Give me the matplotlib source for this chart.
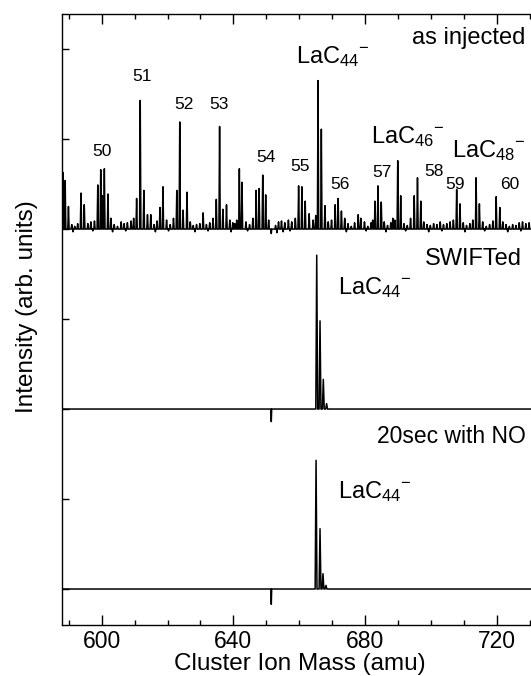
import matplotlib

matplotlib.use("Agg")
import matplotlib.pyplot as plt
from matplotlib.ticker import MultipleLocator

plt.rcParams["font.family"] = ["Liberation Sans", "DejaVu Sans"]
plt.rcParams["mathtext.fontset"] = "custom"
plt.rcParams["mathtext.rm"] = "Liberation Sans"
plt.rcParams["mathtext.it"] = "Liberation Sans"
plt.rcParams["mathtext.default"] = "regular"

# --- data (mass in amu, intensity in arb. units) ---
# "as injected" spectrum: main peaks
injected_mass = [
    588.2, 588.9, 589.9, 593.7, 594.7, 598.8, 599.7, 600.2, 600.8, 601.9,
    605.9, 610.6, 611.7, 612.8, 613.9, 614.9, 617.7, 618.6, 622.8, 623.7,
    624.7, 625.9, 630.8, 634.8, 635.8, 636.8, 637.9, 641.0, 641.8, 642.6,
    646.9, 647.8, 648.9, 649.8, 659.8, 660.8, 661.8, 663.0, 665.0, 665.7,
    666.7, 667.8, 670.9, 671.8, 672.8, 677.9, 678.7, 683.0, 683.9, 684.9,
    689.0, 689.9, 690.8, 694.9, 695.9, 696.9, 706.8, 707.8, 708.8, 712.7,
    713.7, 714.7, 719.8, 720.9,
]
injected_int = [
    0.63, 0.54, 0.25, 0.40, 0.27, 0.49, 0.66, 0.37, 0.67, 0.39,
    0.08, 0.34, 1.43, 0.43, 0.16, 0.16, 0.24, 0.47, 0.43, 1.19,
    0.21, 0.41, 0.18, 0.33, 1.14, 0.22, 0.27, 0.10, 0.67, 0.52,
    0.43, 0.45, 0.60, 0.38, 0.48, 0.47, 0.31, 0.17, 0.15, 1.65,
    1.11, 0.26, 0.27, 0.34, 0.20, 0.16, 0.12, 0.31, 0.48, 0.30,
    0.10, 0.76, 0.37, 0.37, 0.57, 0.31, 0.10, 0.44, 0.28, 0.10,
    0.57, 0.28, 0.36, 0.24,
]
# small baseline wiggles of the "as injected" trace
noise_mass = [
    590.9, 591.8, 592.7, 595.8, 596.7, 597.8, 602.8, 603.8, 604.8, 606.8,
    607.8, 608.9, 609.7, 615.9, 616.8, 619.7, 620.8, 621.8, 626.9, 627.8,
    628.8, 629.8, 631.8, 632.8, 633.8, 638.9, 639.8, 640.4, 643.8, 644.9,
    645.9, 650.7, 651.5, 652.8, 653.7, 654.6, 655.6, 656.7, 657.7, 658.8,
    664.2, 668.8, 669.8, 673.8, 674.8, 675.8, 676.8, 679.8, 680.8, 681.8,
    682.3, 685.8, 686.8, 687.8, 688.4, 691.8, 692.8, 693.8, 697.8, 698.8,
    699.8, 700.8, 701.8, 702.8, 703.8, 704.8, 705.8, 709.8, 710.8, 711.8,
    715.7, 716.8, 717.8, 718.8, 721.8, 722.8, 723.8, 724.8, 725.8, 726.8,
    727.8, 728.8, 729.8,
    591.3, 597.3, 603.3, 607.3, 616.3, 620.3, 628.3, 632.3, 639.3, 644.3,
    653.2, 655.1, 657.2, 674.3, 680.3, 686.3, 692.3, 699.3, 703.3, 710.3,
    716.3, 723.3, 727.3,
]
noise_int = [
    0.05, 0.03, 0.06, 0.06, 0.08, 0.09, 0.12, 0.05, 0.03, 0.06,
    0.07, 0.09, 0.12, 0.05, 0.09, 0.10, 0.05, 0.12, 0.08, 0.04,
    0.05, 0.06, 0.05, 0.07, 0.12, 0.10, 0.07, 0.06, 0.08, 0.05,
    0.12, 0.10, -0.05, 0.04, 0.08, 0.09, 0.07, 0.10, 0.08, 0.12,
    0.10, 0.08, 0.10, 0.12, 0.06, 0.03, 0.07, 0.08, 0.03, 0.07,
    0.10, 0.08, 0.04, 0.07, 0.12, 0.06, 0.04, 0.12, 0.08, 0.05,
    0.04, 0.06, 0.05, 0.08, 0.05, 0.06, 0.08, 0.07, 0.04, 0.06,
    0.08, 0.03, 0.05, 0.09, 0.08, 0.05, 0.03, 0.05, 0.04, 0.07,
    0.08, 0.06, 0.07,
    -0.03, -0.02, -0.03, -0.02, -0.03, -0.02, -0.03, -0.02, -0.03, -0.02,
    -0.04, -0.03, -0.02, -0.03, -0.02, -0.03, -0.02, -0.03, -0.02, -0.03,
    -0.02, -0.03, -0.02,
]
# SWIFTed spectrum
swift_mass = [651.5, 665.3, 666.3, 667.3, 668.3]
swift_int = [-0.14, 1.71, 0.98, 0.33, 0.06]
# 20 s with NO
no_mass = [651.5, 665.1, 666.3, 667.2, 668.1]
no_int = [-0.17, 1.43, 0.67, 0.17, 0.04]

# C_n cluster labels and where they sit
cn_labels = ["50", "51", "52", "53", "54", "55", "56", "57", "58", "59", "60"]
cn_mass = [600.2, 612.3, 625.0, 635.5, 649.8, 660.1, 672.5, 685.1, 701.0, 707.3, 723.8]
cn_y = [4.86, 5.69, 5.38, 5.38, 4.79, 4.70, 4.49, 4.63, 4.64, 4.49, 4.49]

XMIN, XMAX = 587.94, 732.5
OFFSETS = [4.0, 2.0, 0.0]


def stick_trace(masses, heights, base, half_width):
    """Polyline of narrow triangular peaks on a flat baseline."""
    pairs = sorted(zip(masses, heights))
    xs, ys = [XMIN], [base]
    for m, h in pairs:
        w = half_width if h > 0 else 0.12
        xs += [m - w, m, m + w]
        ys += [base, base + h, base]
    xs.append(XMAX)
    ys.append(base)
    return xs, ys


fig = plt.figure(figsize=(5.31, 6.76), dpi=100)
ax = fig.add_axes([62 / 531, 51 / 676, 476 / 531, 611 / 676])

x, y = stick_trace(injected_mass + noise_mass, injected_int + noise_int, OFFSETS[0], 0.2)
ax.plot(x, y, color="black", lw=1.1)
x, y = stick_trace(swift_mass, swift_int, OFFSETS[1], 0.28)
ax.plot(x, y, color="black", lw=1.1)
x, y = stick_trace(no_mass, no_int, OFFSETS[2], 0.28)
ax.plot(x, y, color="black", lw=1.1)

for lab, m, yy in zip(cn_labels, cn_mass, cn_y):
    ax.text(m, yy, lab, ha="center", va="center", fontsize=12.5)

lac = r"LaC$_{44}{}^{-}$"
ax.text(659.0, 5.84, lac, fontsize=17, ha="left", va="baseline")
ax.text(681.7, 4.95, r"LaC$_{46}{}^{-}$", fontsize=17, ha="left", va="baseline")
ax.text(706.5, 4.80, r"LaC$_{48}{}^{-}$", fontsize=17, ha="left", va="baseline")
ax.text(694.1, 6.06, "as injected", fontsize=17, ha="left", va="baseline")

ax.text(698.2, 3.60, "SWIFTed", fontsize=17, ha="left", va="baseline")
ax.text(671.7, 3.28, lac, fontsize=17, ha="left", va="baseline")

ax.text(683.5, 1.62, "20sec with NO", fontsize=16.5, ha="left", va="baseline")
ax.text(671.7, 1.01, lac, fontsize=17, ha="left", va="baseline")

ax.set_xlim(XMIN, XMAX)
ax.set_ylim(-0.4, 6.39)
ax.xaxis.set_major_locator(MultipleLocator(40))
ax.xaxis.set_minor_locator(MultipleLocator(10))
ax.yaxis.set_major_locator(MultipleLocator(1))
ax.tick_params(axis="x", which="both", direction="in", top=True, labelsize=16.5)
ax.tick_params(axis="x", which="major", length=7, width=1)
ax.tick_params(axis="x", which="minor", length=3.5, width=1)
ax.tick_params(axis="y", which="major", direction="in", length=5, width=1, labelleft=False)
for sp in ax.spines.values():
    sp.set_linewidth(1.0)

ax.set_xlabel("Cluster Ion Mass (amu)", fontsize=17.5, labelpad=0)
ax.set_ylabel("Intensity (arb. units)", fontsize=17.5)
ax.yaxis.set_label_coords(-24 / 476, (625 - 307) / 611)

fig.savefig("out.png", dpi=100)
